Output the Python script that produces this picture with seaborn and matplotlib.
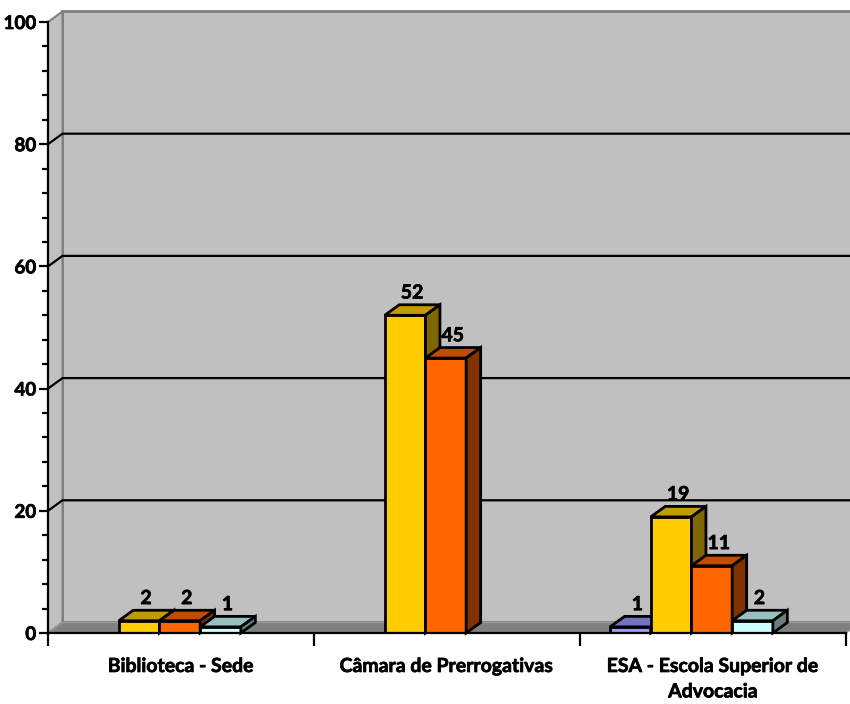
import numpy as np
import pandas as pd
import seaborn as sns
import matplotlib.pyplot as plt
import matplotlib.patheffects as pe
from matplotlib.patches import Polygon
from matplotlib.ticker import MultipleLocator
from matplotlib.colors import to_rgb

# dados do grafico
categorias = ['Biblioteca - Sede', 'Câmara de Prerrogativas', 'ESA - Escola Superior de\nAdvocacia']
series_nomes = ['Série 1', 'Série 2', 'Série 3', 'Série 4']
serie_azul = [np.nan, np.nan, 1]
serie_amarela = [2, 52, 19]
serie_laranja = [2, 45, 11]
serie_ciano = [1, np.nan, 2]

cores_frente = ['#9999FF', '#FFCC00', '#FF6600', '#CCFFFF']
cores_topo = ['#7373BF', '#C29B00', '#BF4C00', '#99C0C0']
cores_lado = ['#4C4C80', '#806600', '#803300', '#668080']

linhas = []
for nome, vals in zip(series_nomes, [serie_azul, serie_amarela, serie_laranja, serie_ciano]):
    for cat, v in zip(categorias, vals):
        linhas.append({'categoria': cat, 'serie': nome, 'valor': v})
df = pd.DataFrame(linhas).dropna()

sns.set_style('white')
plt.rcParams['font.family'] = ['Lato', 'DejaVu Sans']
plt.rcParams['text.color'] = 'black'
plt.rcParams['xtick.color'] = 'black'
plt.rcParams['ytick.color'] = 'black'
PESO = 'bold'
TAM = 14
# engrossa um pouco o texto
grosso = [pe.withStroke(linewidth=0.5, foreground='black')]

fig = plt.figure(figsize=(8.5, 7.04), dpi=100)
ax = fig.add_axes([48 / 850, 71 / 704, 798 / 850, 611 / 704])
ax.set_facecolor('none')

sns.barplot(
    data=df,
    x='categoria',
    y='valor',
    hue='serie',
    order=categorias,
    hue_order=series_nomes,
    palette=cores_frente,
    width=0.612,
    saturation=1,
    edgecolor='black',
    linewidth=2,
    legend=False,
    ax=ax
)

# barras desenhadas pelo seaborn
barras = sorted([p for p in ax.patches if p.get_height() > 0], key=lambda p: p.get_x())

# efeito 3D: profundidade em unidades de dados
DX = 0.0545
DY = 1.72
xl = -0.419
xr = len(categorias) - 0.419
ymax = 100

# parede do fundo, parede lateral e piso
fundo = Polygon([(xl + DX, DY), (xr + DX + 0.2, DY), (xr + DX + 0.2, ymax + DY), (xl + DX, ymax + DY)],
                facecolor='#C0C0C0', edgecolor='#808080', lw=2, clip_on=False, zorder=0)
ax.add_patch(fundo)
lateral = Polygon([(xl, 0), (xl + DX, DY), (xl + DX, ymax + DY), (xl, ymax)],
                  facecolor='#C0C0C0', edgecolor='#808080', lw=1.5, clip_on=False, zorder=0.5)
ax.add_patch(lateral)
piso = Polygon([(xl, 0), (xr, 0), (xr + DX, DY), (xl + DX, DY)],
               facecolor='#808080', edgecolor='#999999', lw=1, clip_on=False, zorder=1)
ax.add_patch(piso)

for v in [20, 40, 60, 80]:
    ax.plot([xl, xl + DX, xr + DX + 0.2], [v, v + DY, v + DY], color='black', lw=1.6,
            clip_on=False, zorder=2, solid_capstyle='butt')

# topo e lateral de cada barra
for i, p in enumerate(barras):
    x0 = p.get_x()
    x1 = x0 + p.get_width()
    h = p.get_height()
    rgb = np.round(p.get_facecolor()[:3], 2)
    idx = [j for j, c in enumerate(cores_frente) if np.allclose(np.round(to_rgb(c), 2), rgb)][0]
    z = 10 + i * 3
    p.set_zorder(z)
    p.set_joinstyle('miter')
    topo = Polygon([(x0, h), (x1, h), (x1 + DX, h + DY), (x0 + DX, h + DY)],
                   facecolor=cores_topo[idx], edgecolor='black', lw=2, zorder=z + 1,
                   clip_on=False, joinstyle='miter')
    lado = Polygon([(x1, 0), (x1 + DX, DY), (x1 + DX, h + DY), (x1, h)],
                   facecolor=cores_lado[idx], edgecolor='black', lw=2, zorder=z + 1,
                   clip_on=False, joinstyle='miter')
    ax.add_patch(topo)
    ax.add_patch(lado)
    ax.annotate(f'{int(h)}', xy=((x0 + x1) / 2, h), xytext=(5, 16), textcoords='offset points',
                ha='center', va='center', fontsize=TAM, fontweight=PESO, zorder=50,
                path_effects=grosso)

ax.set_xlim(xl, xr)
ax.set_ylim(0, ymax)

ax.set_yticks(range(0, 101, 20))
ax.yaxis.set_minor_locator(MultipleLocator(4))
ax.tick_params(axis='y', which='major', length=6.5, width=1.6, direction='out', pad=2,
               labelsize=TAM - 0.5, left=True)
ax.tick_params(axis='y', which='minor', length=4.5, width=1.6, direction='out', left=True)

ax.set_xticks([k + 0.081 for k in range(len(categorias))])
ax.set_xticklabels(categorias, fontsize=TAM, fontweight=PESO, linespacing=1.6)
ax.set_xticks([xl + k for k in range(len(categorias) + 1)], minor=True)
ax.tick_params(axis='x', which='major', length=0, pad=18)
ax.tick_params(axis='x', which='minor', length=9, width=1.6, direction='out', bottom=True)

for lab in ax.get_yticklabels() + ax.get_xticklabels():
    lab.set_fontweight(PESO)
    lab.set_path_effects(grosso)

ax.set_xlabel('')
ax.set_ylabel('')
for s in ['top', 'right']:
    ax.spines[s].set_visible(False)
for s in ['left', 'bottom']:
    ax.spines[s].set_color('black')
    ax.spines[s].set_linewidth(1.6)
    ax.spines[s].set_zorder(60)

fig.savefig('out.png', dpi=100)
